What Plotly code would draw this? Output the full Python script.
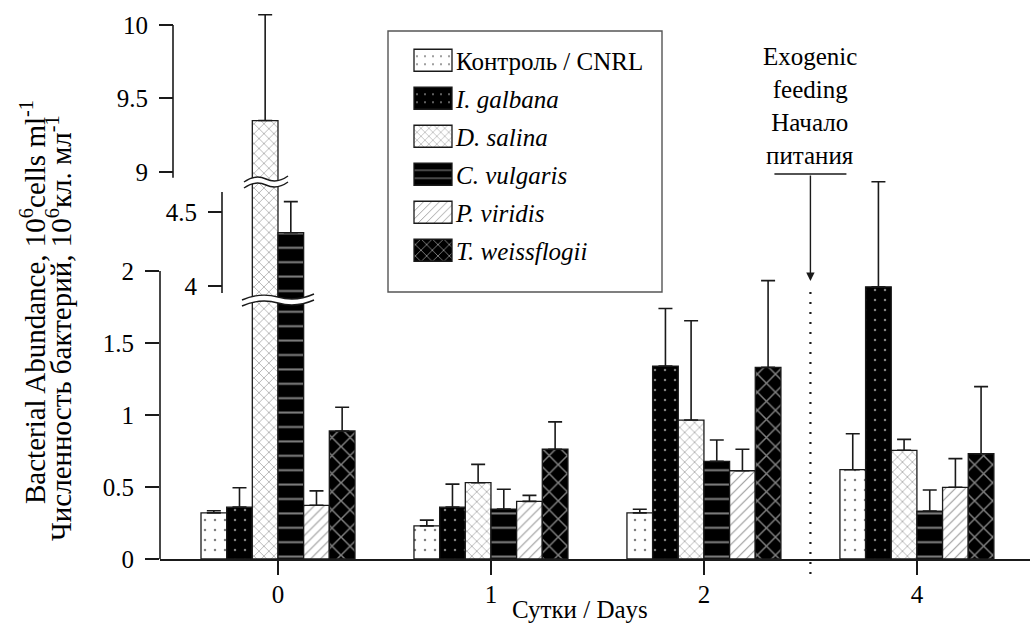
import plotly.graph_objects as go

# ---------------- data ----------------
days = ["0", "1", "2", "4"]
series_names = ["Контроль / CNRL", "I. galbana", "D. salina", "C. vulgaris", "P. viridis", "T. weissflogii"]
legend_labels = ["Контроль / CNRL", "<i>I. galbana</i>", "<i>D. salina</i>",
                 "<i>C. vulgaris</i>", "<i>P. viridis</i>", "<i>T. weissflogii</i>"]

control = [0.32, 0.23, 0.32, 0.62]
control_err = [0.015, 0.04, 0.025, 0.25]
galbana = [0.36, 0.36, 1.34, 1.89]
galbana_err = [0.135, 0.16, 0.40, 0.73]
salina = [9.35, 0.53, 0.965, 0.755]
salina_err = [0.72, 0.127, 0.69, 0.076]
vulgaris = [4.36, 0.347, 0.678, 0.333]
vulgaris_err = [0.21, 0.137, 0.148, 0.146]
viridis = [0.373, 0.40, 0.613, 0.498]
viridis_err = [0.10, 0.042, 0.149, 0.199]
weissflogii = [0.889, 0.762, 1.331, 0.731]
weissflogii_err = [0.165, 0.19, 0.602, 0.466]

values = [control, galbana, salina, vulgaris, viridis, weissflogii]
errors = [control_err, galbana_err, salina_err, vulgaris_err, viridis_err, weissflogii_err]

lower_ticks = [0, 0.5, 1, 1.5, 2]
middle_ticks = [4, 4.5]
upper_ticks = [9, 9.5, 10]

x_title = "Сутки / Days"
y_title_en = "Bacterial Abundance, 10<sup>6</sup>cells ml<sup>-1</sup>"
y_title_ru = "Численность бактерий, 10<sup>6</sup>кл. мл<sup>-1</sup>"
feed_en = "Exogenic<br>feeding"
feed_ru = "Начало<br>питания"

# ---------------- styles ----------------
FONT = "Times New Roman, Liberation Serif, Tinos, serif"
INK = "#1a1a1a"
patterns = [
    dict(shape=".", bgcolor="white", fgcolor="black", size=10, solidity=0.05),
    dict(shape=".", bgcolor="black", fgcolor="white", size=10, solidity=0.05),
    dict(shape="x", bgcolor="white", fgcolor="#555555", size=7, solidity=0.22),
    dict(shape="-", bgcolor="black", fgcolor="white", size=14.4, solidity=0.14),
    dict(shape="/", bgcolor="white", fgcolor="#333333", size=7, solidity=0.16),
    dict(shape="x", bgcolor="black", fgcolor="white", size=12.8, solidity=0.22),
]
base_colors = ["white", "black", "white", "black", "white", "black"]

W, H = 1030, 626
ML, MR, MT, MB = 160, 0, 0, 67
PW = W - ML - MR
PH = H - MT - MB


def py(pix):
    return (H - MB - pix) / PH


def pxp(pix):
    return (pix - ML) / PW


XMIN, XMAX = -0.554, 3.531
sub_frac = 0.25
x_sub_range = [XMIN, XMIN + sub_frac * (XMAX - XMIN)]

fig = go.Figure()
subplots = [("x", "y"), ("x2", "y2"), ("x3", "y3")]
for k, (xa, ya) in enumerate(subplots):
    for i, name in enumerate(series_names):
        fig.add_trace(go.Bar(
            x=days, y=values[i], name=legend_labels[i],
            legendgroup=name, showlegend=(k == 0),
            xaxis=xa, yaxis=ya,
            marker=dict(color=base_colors[i], pattern=patterns[i],
                        line=dict(color=INK, width=1.3)),
            error_y=dict(type="data", symmetric=False, array=errors[i],
                         arrayminus=[0] * len(days), color=INK,
                         thickness=1.6, width=7),
        ))

tickfont = dict(family=FONT, size=25, color="black")
common_y = dict(showline=False, showgrid=False, zeroline=False, ticks="outside",
                ticklen=14, tickwidth=1.6, tickcolor=INK, tickfont=tickfont,
                ticklabelstandoff=6)

fig.update_layout(
    width=W, height=H,
    margin=dict(l=ML, r=MR, t=MT, b=MB),
    paper_bgcolor="white", plot_bgcolor="white",
    barmode="group", bargap=0.277, bargroupgap=0,
    showlegend=True,
    legend=dict(x=pxp(386), y=py(37.5), xanchor="left", yanchor="top",
                font=dict(family=FONT, size=25, color="black"),
                bgcolor="rgba(0,0,0,0)", borderwidth=0,
                itemwidth=60, tracegroupgap=2.5, traceorder="grouped"),
    xaxis=dict(domain=[0, 1], type="category", categoryorder="array", categoryarray=days,
               range=[XMIN, XMAX], showline=True, linecolor=INK, linewidth=1.6,
               ticks="outside", ticklen=14, tickwidth=1.6, tickcolor=INK,
               tickfont=tickfont, showgrid=False, zeroline=False, anchor="y",
               ticklabelstandoff=-2),
    yaxis=dict(domain=[0, py(175)], range=[0, (H - MB - 175) / 144.0],
               tickvals=lower_ticks, ticktext=[f"{v:g}" for v in lower_ticks],
               anchor="x", **common_y),
    xaxis2=dict(domain=[0, sub_frac], type="category", categoryorder="array",
                categoryarray=days, range=x_sub_range, visible=False, anchor="y2"),
    yaxis2=dict(domain=[py(300), py(183)], range=[3.905, 4.696],
                tickvals=middle_ticks, ticktext=[f"{v:g}" for v in middle_ticks],
                anchor="free", position=pxp(222), **common_y),
    xaxis3=dict(domain=[0, sub_frac], type="category", categoryorder="array",
                categoryarray=days, range=x_sub_range, visible=False, anchor="y3"),
    yaxis3=dict(domain=[py(183), 1], range=[8.925, 10.17],
                tickvals=upper_ticks, ticktext=[f"{v:g}" for v in upper_ticks],
                anchor="free", position=pxp(173), **common_y),
)

shapes = []
# axis lines with their own extents
shapes.append(dict(type="line", xref="paper", yref="y", x0=0, x1=0, y0=0, y1=2,
                   line=dict(color=INK, width=1.6)))
shapes.append(dict(type="line", xref="paper", yref="y2", x0=pxp(222), x1=pxp(222),
                   y0=3.953, y1=4.635, line=dict(color=INK, width=1.6)))
shapes.append(dict(type="line", xref="paper", yref="y3", x0=pxp(173), x1=pxp(173),
                   y0=8.96, y1=10, line=dict(color=INK, width=1.6)))


def wave_pts(x0, x1, yc):
    w = x1 - x0
    return [(x0, yc + 3), (x0 + w * 0.25, yc - 5), (x0 + w * 0.5, yc),
            (x0 + w * 0.75, yc + 5), (x1, yc - 3)]


def P(x, y):
    return f"{pxp(x):.5f},{py(y):.5f}"


def break_mark(x0, x1, ytop, ybot):
    a = wave_pts(x0, x1, ytop)
    b = wave_pts(x0, x1, ybot)
    band = (f"M{P(*a[0])} Q{P(*a[1])} {P(*a[2])} Q{P(*a[3])} {P(*a[4])} "
            f"L{P(*b[4])} Q{P(*b[3])} {P(*b[2])} Q{P(*b[1])} {P(*b[0])} Z")
    shapes.append(dict(type="path", xref="paper", yref="paper", path=band,
                       fillcolor="white", line=dict(width=0)))
    for pts in (a, b):
        p = f"M{P(*pts[0])} Q{P(*pts[1])} {P(*pts[2])} Q{P(*pts[3])} {P(*pts[4])}"
        shapes.append(dict(type="path", xref="paper", yref="paper", path=p,
                           line=dict(color=INK, width=1.4)))


break_mark(242, 314, 297, 303)
break_mark(244, 288, 179, 185)

# exogenic feeding marker at category position 2.5
x_feed = (2.5 - XMIN) / (XMAX - XMIN)
shapes.append(dict(type="line", xref="paper", yref="paper", x0=x_feed, x1=x_feed,
                   y0=py(574), y1=py(290), line=dict(color=INK, width=2.2, dash="2px,8px")))
shapes.append(dict(type="line", xref="paper", yref="paper", x0=x_feed - 36 / PW,
                   x1=x_feed + 36 / PW, y0=py(174), y1=py(174),
                   line=dict(color=INK, width=1.4)))
# legend box
shapes.append(dict(type="rect", xref="paper", yref="paper", x0=pxp(388), x1=pxp(662),
                   y0=py(31), y1=py(292), line=dict(color="#555555", width=1.4),
                   fillcolor="rgba(0,0,0,0)"))
fig.update_layout(shapes=shapes)

ann = []
ann.append(dict(x=x_feed, y=py(281), xref="paper", yref="paper", text="", showarrow=True,
                ax=0, ay=-(281 - 174), arrowhead=2, arrowsize=1.2, arrowwidth=1.4,
                arrowcolor=INK))
for txt, yy in ((feed_en, 73), (feed_ru, 139)):
    ann.append(dict(x=x_feed, y=py(yy), xref="paper", yref="paper", text=txt,
                    showarrow=False, xanchor="center", yanchor="middle",
                    font=dict(family=FONT, size=25, color="black")))
ann.append(dict(x=pxp(580), y=py(609), xref="paper", yref="paper", text=x_title,
                showarrow=False, xanchor="center", yanchor="middle",
                font=dict(family=FONT, size=25, color="black")))
for txt, xx, yy in ((y_title_en, 33, 302), (y_title_ru, 59, 328)):
    ann.append(dict(x=pxp(xx), y=py(yy), xref="paper", yref="paper", text=txt,
                    textangle=-90, showarrow=False, xanchor="center", yanchor="middle",
                    font=dict(family=FONT, size=29, color="black")))
fig.update_layout(annotations=ann)

post = """
document.body.style.margin = '0';
document.body.style.padding = '0';
function fixLegendSwatches() {
  var paths = document.querySelectorAll('.legend .legendpoints path');
  paths.forEach(function(p){ p.setAttribute('d', 'M31,11H-7V-11H31Z'); });
}
fixLegendSwatches();
var gdiv = document.querySelector('.plotly-graph-div');
if (gdiv && gdiv.on) { gdiv.on('plotly_afterplot', fixLegendSwatches); }
setTimeout(fixLegendSwatches, 50);
setTimeout(fixLegendSwatches, 300);
"""
fig.write_html("out.html", post_script=post, config={"displayModeBar": False})
